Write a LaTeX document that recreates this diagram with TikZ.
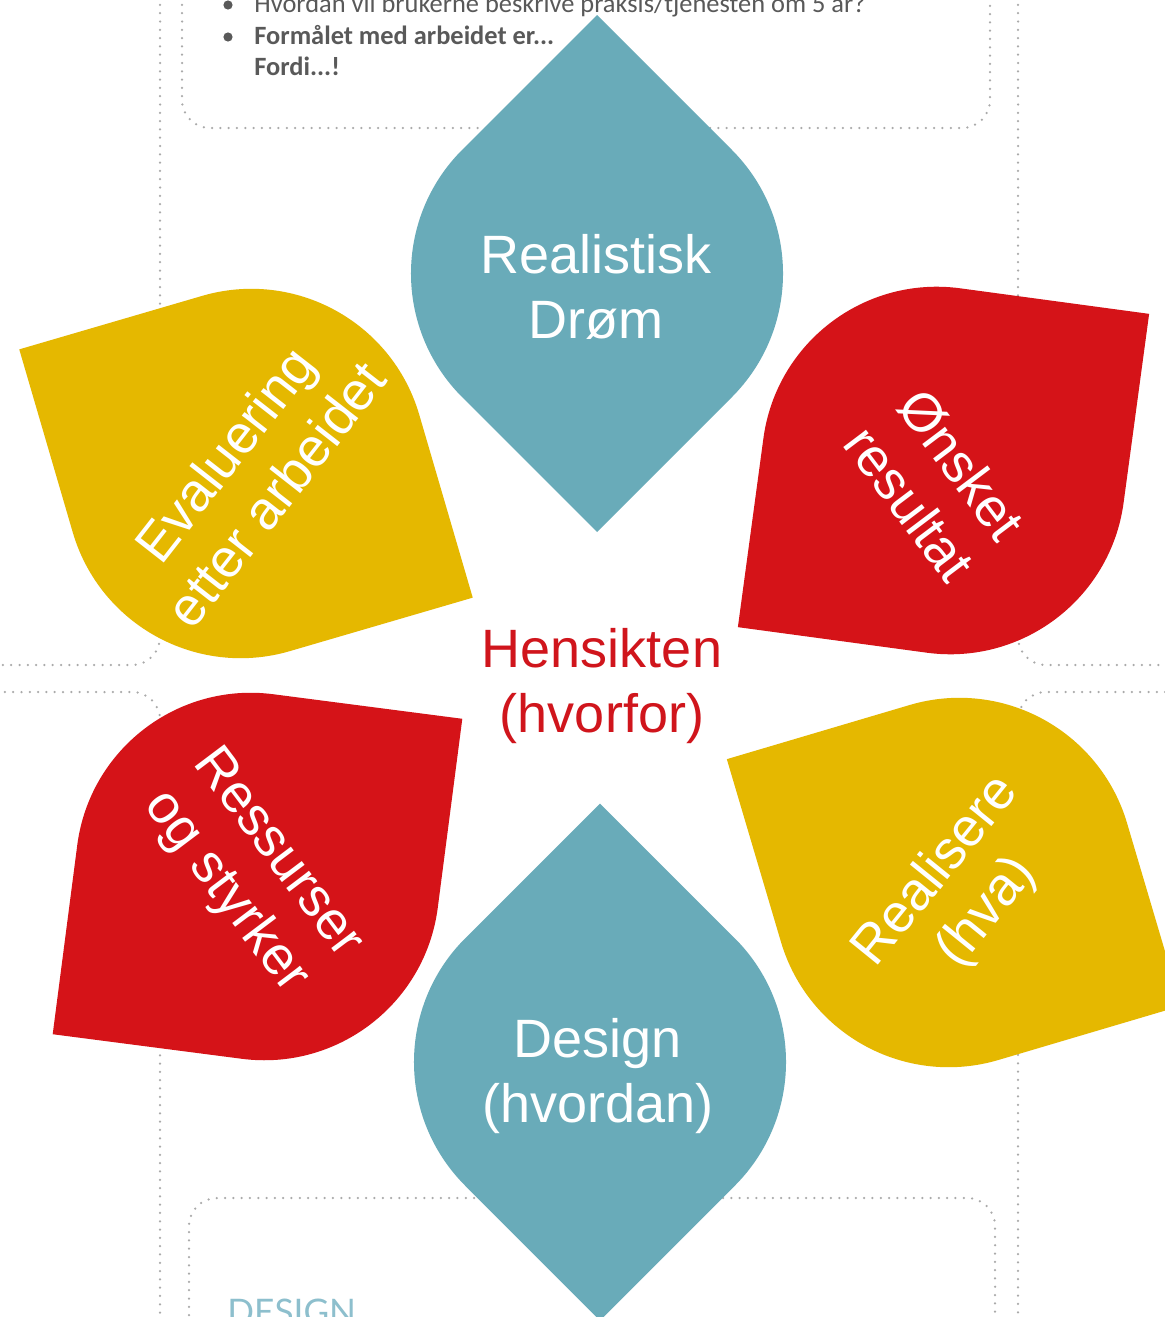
\documentclass[tikz,border=0pt]{standalone}
\usepackage{fontspec}
\setmainfont{Liberation Sans}
\newfontfamily\calf{Carlito}
\newfontfamily\lightf{Lato}
\definecolor{pblue}{RGB}{105,171,185}
\definecolor{pred}{RGB}{213,19,24}
\definecolor{pyellow}{RGB}{229,184,0}
\definecolor{htext}{RGB}{208,21,28}
\definecolor{dotgray}{RGB}{170,170,170}
\definecolor{bodygray}{RGB}{89,89,89}
\definecolor{designblue}{RGB}{141,191,205}
\newcommand\mypetal[4]{%
  \fill[#4, shift={(#1,#2)}, rotate=#3] (0,258.5) -- (-134.76,123.74)
    arc[start angle=135,end angle=225,radius=175] -- (0,-258.5) -- (134.76,-123.74)
    arc[start angle=-45,end angle=45,radius=175] -- cycle;}
\tikzset{
  dotline/.style={draw=dotgray, line width=1.25pt, line cap=round, dash pattern=on 0pt off 4.15pt, rounded corners=14pt},
  petaltext/.style={text=white, align=center, inner sep=0pt, font=\fontsize{27}{32.5}\selectfont},
  bodytext/.style={text=bodygray, inner sep=0pt, anchor=base west, font=\calf\fontsize{13.2}{15.8}\selectfont},
  boldbody/.style={bodytext, font=\calf\bfseries\fontsize{13.2}{15.8}\selectfont},
  bulletdot/.style={circle, fill=bodygray, inner sep=0pt, minimum size=4.6pt}
}
\begin{document}
\begin{tikzpicture}[x=0.5pt, y=-0.5pt]
\useasboundingbox (0,0) rectangle (1164,1317);
\fill[white] (0,0) rectangle (1164,1317);
% dotted frames
\draw[dotline] (160,-20) -- (160,665) -- (-20,665);
\draw[dotline] (-20,692) -- (160,692) -- (160,1340);
\draw[dotline] (1018,-20) -- (1018,665) -- (1190,665);
\draw[dotline] (1190,692) -- (1018,692) -- (1018,1340);
\draw[dotline] (182,-20) -- (182,128) -- (990,128) -- (990,-20);
\draw[dotline] (189,1340) -- (189,1198) -- (995,1198) -- (995,1340);
% top text
\node[bulletdot] (b1) at (228,5) {};
\node[bulletdot] (b2) at (228,37) {};
\node[bodytext] (l1) at (254,12) {Hvordan vil brukerne beskrive praksis/tjenesten om 5 år?};
\node[boldbody] (l2) at (254,44) {Formålet med arbeidet er...};
\node[boldbody] (l3) at (254,75) {Fordi...!};
\node[text=designblue, inner sep=0pt, anchor=north west, font=\lightf\fontsize{17.6}{20}\selectfont] (design) at (227,1299) {DESIGN};
% petals
\mypetal{597}{273.5}{0}{pblue}
\mypetal{600}{1062}{0}{pblue}
\mypetal{943.5}{470.5}{-52.7}{pred}
\mypetal{257.5}{876.5}{-52.4}{pred}
\mypetal{246}{473.5}{61.3}{pyellow}
\mypetal{954}{882.5}{61.5}{pyellow}
% texts
\node[petaltext] (realistisk) at (596,287) {Realistisk\\Drøm};
\node[petaltext] (design2) at (598,1076) {Design\\(hvordan)};
\node[petaltext, rotate=-53] (onsket) at (936,484) {Ønsket\\resultat};
\node[petaltext, rotate=-53] (ressurser) at (251,873) {Ressurser\\og styrker};
\node[petaltext, rotate=52] (evaluering) at (250,474) {Evaluering\\etter arbeidet};
\node[petaltext, rotate=51] (realisere) at (962,892) {Realisere\\(hva)};
\node[petaltext, text=htext] (hensikten) at (602,686) {Hensikten\\(hvorfor)};
\end{tikzpicture}
\end{document}
